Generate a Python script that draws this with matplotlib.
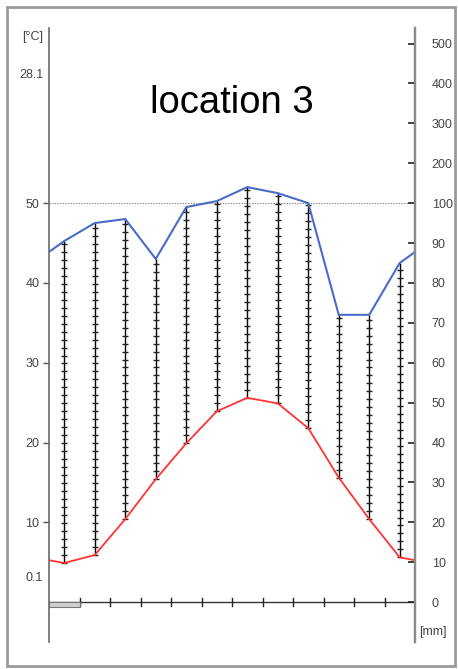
import numpy as np
import matplotlib
matplotlib.use("Agg")
import matplotlib.pyplot as plt
from matplotlib.patches import Rectangle
import matplotlib.transforms as mtransforms

plt.rcParams['font.family'] = ['Liberation Sans', 'DejaVu Sans']

# ---- data ----
title = "location 3"
months = np.arange(12)
temp = [4.9, 5.9, 10.4, 15.4, 19.9, 23.9, 25.6, 24.9, 21.8, 15.6, 10.4, 5.6]     # °C
precip = [90.5, 95, 96, 86, 99, 105, 140, 125, 100, 72, 72, 85]                 # mm
t_max_label = "28.1"
t_min_label = "0.1"
frost_months = [0]
temp_ticks = [10, 20, 30, 40, 50]
precip_ticks = [0, 10, 20, 30, 40, 50, 60, 70, 80, 90, 100, 200, 300, 400, 500]


def scale_p(p):
    p = np.asarray(p, dtype=float)
    return np.where(p <= 100, p, 100 + (p - 100) / 10.0)


W, H = 458, 669
fig = plt.figure(figsize=(W / 100, H / 100), dpi=100)

# outer frame
fig.patches.append(Rectangle((7 / W, 3 / H), 448 / W, 659 / H, transform=fig.transFigure,
                             fill=False, edgecolor='#9a9a9a', linewidth=2.0))

ax_l, ax_r, ax_t, ax_b = 49, 415, 28, 642
ax = fig.add_axes([ax_l / W, 1 - ax_b / H, (ax_r - ax_l) / W, (ax_b - ax_t) / H])
y0 = -10.0
ppu = 399 / 100.0
ytop = y0 + (ax_b - ax_t) / ppu
ax.set_xlim(0, 12)
ax.set_ylim(y0, ytop)

t2 = 2 * np.asarray(temp)
ps = scale_p(precip)
xc = months + 0.5

# wrap-around to the edges (mean of Dec and Jan)
t_edge = (t2[0] + t2[-1]) / 2
p_edge = (ps[0] + ps[-1]) / 2
xx = np.concatenate([[0], xc, [12]])
tt = np.concatenate([[t_edge], t2, [t_edge]])
pp = np.concatenate([[p_edge], ps, [p_edge]])

# 100 mm dotted line
ax.plot([0, 12], [100, 100], color='#888888', linestyle=(0, (1.2, 1.2)), linewidth=0.8, zorder=1)

# humid hatching
for x, lo, hi in zip(xc, t2, ps):
    if hi > lo:
        ax.vlines(x, lo, hi, color='black', linewidth=1.0, zorder=2)
        ys = np.arange(lo, hi + 1e-6, 2.0)
        ax.plot(np.full_like(ys, x), ys, linestyle='none', marker='_', markersize=4.5,
                markeredgewidth=1.0, color='#222222', zorder=2)

ax.plot(xx, pp, color='#4a6cc8', linewidth=1.5, zorder=3, solid_joinstyle='miter')
ax.plot(xx, tt, color='#ff3333', linewidth=1.3, zorder=3)

# x axis with month ticks
ax.plot([0, 12], [0, 0], color='#333333', linewidth=1.0, zorder=2)
for m in range(1, 12):
    ax.plot([m, m], [-1.0, 1.0], color='#222222', linewidth=1.0, zorder=2)
for m in frost_months:
    ax.add_patch(Rectangle((m, -1.2), 1, 1.2, facecolor='#d0d0d0', edgecolor='#777777',
                           linewidth=0.8, zorder=2))

# spines
for s in ['top', 'bottom']:
    ax.spines[s].set_visible(False)
ax.spines['left'].set_color('#6a6a6a')
ax.spines['left'].set_linewidth(1.2)
ax.spines['right'].set_color('#8a8a8a')
ax.spines['right'].set_linewidth(1.6)
ax.set_xticks([])

ax.set_yticks([2 * t for t in temp_ticks])
ax.set_yticklabels([str(t) for t in temp_ticks])
ax.tick_params(axis='y', direction='out', length=4, width=1, color='#555555',
               labelsize=9, labelcolor='#444444', pad=3)

blend = mtransforms.blended_transform_factory(ax.transAxes, ax.transData)
for txt, yv in [("[°C]", 141.6), (t_max_label, 132), (t_min_label, 6)]:
    ax.text(-0.016, yv, txt, transform=blend, ha='right', va='center', fontsize=9,
            color='#444444')

ax2 = ax.twinx()
ax2.set_ylim(y0, ytop)
for s in ['top', 'bottom', 'left']:
    ax2.spines[s].set_visible(False)
ax2.spines['right'].set_color('#8a8a8a')
ax2.spines['right'].set_linewidth(1.6)
ax2.set_yticks(scale_p(precip_ticks))
ax2.set_yticklabels([str(p) for p in precip_ticks])
ax2.tick_params(axis='y', direction='in', length=5, width=1.2, color='#222222',
                labelsize=9, labelcolor='#444444', pad=12)
ax2.text(1.01, -7.5, "[mm]", transform=blend, ha='left', va='center', fontsize=9,
         color='#444444')

ax.text(0.5, 1 - 103 / (ax_b - ax_t) * 0 , "", transform=ax.transAxes)
fig.text(232 / W, 1 - 103 / H, title, ha='center', va='center', fontsize=27.5, color='black')

fig.savefig("out.png", dpi=100)
